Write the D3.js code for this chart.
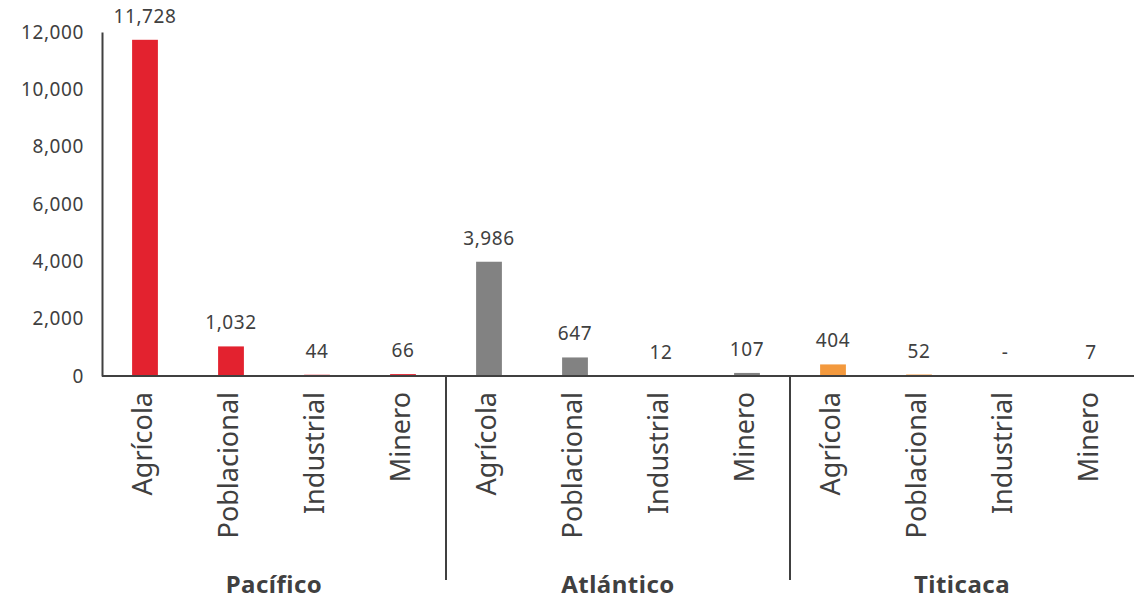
<!DOCTYPE html>
<html><head><meta charset="utf-8">
<script src="https://cdn.jsdelivr.net/npm/d3@7"></script>
<style>body{margin:0;background:#fff}svg{display:block}text{font-family:"Noto Sans",sans-serif;fill:#404040}</style>
</head><body><svg id="c" width="1145" height="601"></svg>
<script>
const groups = ["Pacífico", "Atlántico", "Titicaca"];
const uses = ["Agrícola", "Poblacional", "Industrial", "Minero"];
const pacifico = [11728, 1032, 44, 66];
const atlantico = [3986, 647, 12, 107];
const titicaca = [404, 52, null, 7];
const groupColors = ["#e3222f", "#828282", "#f3993d"];
const yTicks = [0, 2000, 4000, 6000, 8000, 10000, 12000];

const series = [pacifico, atlantico, titicaca];
const data = [];
groups.forEach((g, gi) => uses.forEach((u, ui) => data.push({key: g + "|" + u, group: g, gi, use: u, value: series[gi][ui]})));

const svg = d3.select("#c");
const x0 = 102, x1 = 1134, yTop = 32, yBase = 376;
const x = d3.scaleBand().domain(data.map(d => d.key)).range([x0, x1]).paddingInner(0.7).paddingOuter(0.35);
const y = d3.scaleLinear().domain([0, 12000]).range([yBase, yTop]);
const fmt = d3.format(",");

// y axis
const yAxis = svg.append("g").attr("transform", `translate(${x0},0)`)
  .call(d3.axisLeft(y).tickValues(yTicks).tickFormat(fmt).tickSize(0).tickPadding(18));
yAxis.select(".domain").attr("stroke", "#404040").attr("stroke-width", 2);
yAxis.selectAll("text").style("font-size", "19px").style("letter-spacing", "0.6px").attr("fill", "#404040").style("font-family", "'Noto Sans',sans-serif");

// bars
svg.append("g").selectAll("rect").data(data.filter(d => d.value != null)).join("rect")
  .attr("x", d => x(d.key)).attr("width", x.bandwidth())
  .attr("y", d => y(d.value)).attr("height", d => yBase - y(d.value))
  .attr("fill", d => groupColors[d.gi]);

// value labels
svg.append("g").selectAll("text").data(data).join("text")
  .attr("x", d => x(d.key) + x.bandwidth() / 2)
  .attr("y", d => y(d.value || 0) - 17)
  .attr("text-anchor", "middle").style("font-size", "19px").style("letter-spacing", "0.6px")
  .text(d => d.value == null ? "-" : fmt(d.value));

// x axis baseline
svg.append("line").attr("x1", x0).attr("x2", x1).attr("y1", yBase).attr("y2", yBase)
  .attr("stroke", "#404040").attr("stroke-width", 2);

// category labels
svg.append("g").selectAll("text").data(data).join("text")
  .attr("transform", d => `translate(${x(d.key) + x.bandwidth() / 2 + 7},392) rotate(-90)`)
  .attr("text-anchor", "end").style("font-size", "27px")
  .text(d => d.use);

// group separators and labels
const groupWidth = (x1 - x0) / groups.length;
svg.append("g").selectAll("line").data(groups.slice(1)).join("line")
  .attr("x1", (d, i) => x0 + (i + 1) * groupWidth).attr("x2", (d, i) => x0 + (i + 1) * groupWidth)
  .attr("y1", yBase).attr("y2", 580).attr("stroke", "#404040").attr("stroke-width", 2);
svg.append("g").selectAll("text").data(groups).join("text")
  .attr("x", (d, i) => x0 + (i + 0.5) * groupWidth).attr("y", 593)
  .attr("text-anchor", "middle").style("font-size", "24px").style("font-weight", "bold").style("letter-spacing", "0.5px")
  .text(d => d);
</script></body></html>
